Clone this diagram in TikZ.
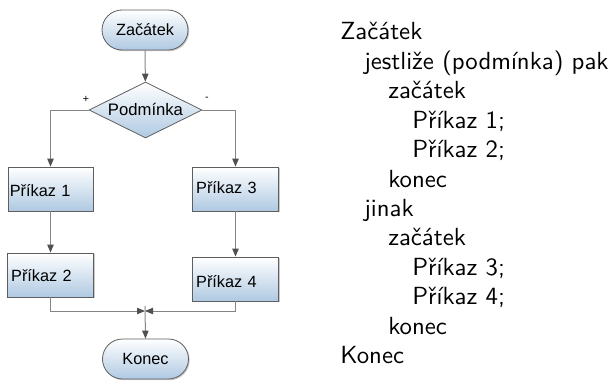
\documentclass[tikz,border=0pt]{standalone}
\usepackage{fontspec}
\newfontfamily\diagfont{Liberation Sans}
\newfontfamily\codefont{lmsans10-regular.otf}
\usetikzlibrary{arrows.meta,shapes.geometric,shadows}
\definecolor{boxblue}{HTML}{AFC9E2}
\definecolor{edgegray}{HTML}{5E5E5E}
\definecolor{linegray}{HTML}{858585}
\definecolor{tipgray}{HTML}{505050}
\begin{document}
\begin{tikzpicture}[x=0.75pt,y=-0.75pt,
  flowfill/.style={top color=white,bottom color=boxblue,draw=edgegray,line width=0.6pt},
  pill/.style={flowfill,rounded corners=15pt,minimum width=64.5pt,minimum height=30pt,inner sep=0pt,
     font=\diagfont\fontsize{12.2}{14}\selectfont,
     drop shadow={shadow xshift=0.9pt,shadow yshift=-0.9pt,fill=black!35,opacity=0.6}},
  decision/.style={flowfill,diamond,aspect=2,inner sep=0pt,minimum width=84.75pt,minimum height=42pt,
     font=\diagfont\fontsize{12.5}{14}\selectfont},
  stepbox/.style={flowfill,rectangle,minimum width=63.75pt,minimum height=33pt,
     text width=58pt,align=left,text height=9pt,text depth=0pt,
     font=\diagfont\fontsize{12.2}{14}\selectfont,
     drop shadow={shadow xshift=0.9pt,shadow yshift=-0.9pt,fill=black!35,opacity=0.6}},
  flow/.style={draw=linegray,line width=0.75pt,-{Triangle[length=6pt,width=4.8pt,fill=tipgray,color=tipgray]}},
  sign/.style={font=\diagfont\fontsize{8}{9}\selectfont,inner sep=0pt},
  code/.style={anchor=base west,inner sep=0pt,font=\codefont\fontsize{18.6}{22}\selectfont}
]
\useasboundingbox (0,0) rectangle (608,382);

% flowchart
\node[pill] (start) at (145,30) {Začátek};
\node[decision] (cond) at (145.5,110) {\raisebox{1.5pt}{Podmínka}};
\node[sign] (plus) at (86,99) {+};
\node[sign] (minus) at (207,99) {-};
\node[stepbox,inner xsep=1pt,text width=61pt] (p1) at (50.5,189) {\raisebox{-1.5pt}{Příkaz 1}};
\node[stepbox,inner xsep=3pt,text width=59pt] (p3) at (235.5,189) {\raisebox{1.5pt}{Příkaz 3}};
\node[stepbox,inner xsep=3pt,text width=59pt] (p2) at (50.5,275) {Příkaz 2};
\node[stepbox,inner xsep=3pt,text width=59pt] (p4) at (235.5,279) {\raisebox{-2pt}{Příkaz 4}};
\node[pill] (stop) at (145.5,359) {Konec};

\coordinate (merge) at (145,311);
\coordinate (tick) at (145,306);

\draw[flow] (start) -- (cond);
\draw[flow] (cond.west) -| (p1.north);
\draw[flow] (cond.east) -| (p3.north);
\draw[flow] (p1) -- (p2);
\draw[flow] (p3) -- (p4);
\draw[flow] (p2.south) |- (merge);
\draw[flow] (p4.south) |- (merge);
\draw[flow] (tick) -- (stop.north);

% pseudocode
\node[code] (c1) at (340,40) {Začátek};
\node[code] (c2) at (364,69.4) {jestliže (podmínka) pak};
\node[code] (c3) at (388,98.8) {začátek};
\node[code] (c4) at (412,128.2) {Příkaz 1;};
\node[code] (c5) at (412,157.6) {Příkaz 2;};
\node[code] (c6) at (388,187) {konec};
\node[code] (c7) at (364,216.4) {jinak};
\node[code] (c8) at (388,245.8) {začátek};
\node[code] (c9) at (412,275.2) {Příkaz 3;};
\node[code] (c10) at (412,304.6) {Příkaz 4;};
\node[code] (c11) at (388,334) {konec};
\node[code] (c12) at (340,363.4) {Konec};
\end{tikzpicture}
\end{document}
